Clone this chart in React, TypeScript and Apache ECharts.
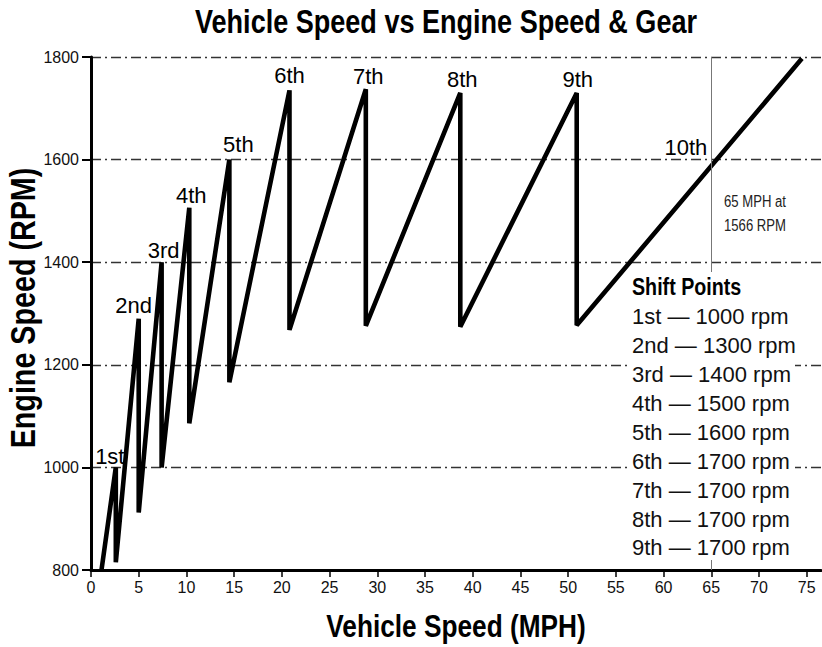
import React, { useEffect, useRef } from "react";
import * as echarts from "echarts";

// ---- data ----
const mph = [1.1, 2.6, 2.6, 5.0, 5.0, 7.4, 7.4, 10.3, 10.3, 14.5, 14.5, 20.8, 20.8, 28.8, 28.8, 38.7, 38.7, 50.9, 50.9, 74.5];
const rpm = [800, 1000, 815, 1290, 912, 1400, 1000, 1506, 1086, 1600, 1166, 1735, 1268, 1737, 1276, 1730, 1274, 1730, 1277, 1797];
const gearNames = ["1st", "2nd", "3rd", "4th", "5th", "6th", "7th", "8th", "9th"];
const peakIndex = [1, 3, 5, 7, 9, 11, 13, 15, 17];
const topGearName = "10th";
const xTicks = [0, 5, 10, 15, 20, 25, 30, 35, 40, 45, 50, 55, 60, 65, 70, 75];
const shiftGears = ["1st", "2nd", "3rd", "4th", "5th", "6th", "7th", "8th", "9th"];
const shiftRpm = [1000, 1300, 1400, 1500, 1600, 1700, 1700, 1700, 1700];
const markerMph = 65;
const markerRpm = 1566;
const markerGridRpm = 1600;

const TITLE = "Vehicle Speed vs Engine Speed & Gear";
const X_NAME = "Vehicle Speed (MPH)";
const Y_NAME = "Engine Speed (RPM)";

// ---- styles ----
const SANS = '"Liberation Sans", Arial, sans-serif';
const NARROW_SCALE = 0.82;
const labelOffsets: [number, number][] = [
  [-6, 0], [-5, -2], [2, -1], [2, -1.6], [9, -3.6], [0, -3.6], [2.5, -1.6], [2, -2.6], [1, -2.6],
];

export default function App() {
  const ref = useRef<HTMLDivElement>(null);
  useEffect(() => {
    document.body.style.margin = "0";
    const chart = echarts.init(ref.current!, null, { renderer: "svg" });

    const boxX = 627, boxY = 272, boxW = 168, boxH = 288;
    const lineY0 = 316.7, lineStep = 28.9;
    const boxChildren: any[] = [
      { type: "rect", z: 100, shape: { x: boxX, y: boxY, width: boxW, height: boxH }, style: { fill: "#fff" } },
      {
        type: "text", z: 101, x: 632, y: 287, scaleX: NARROW_SCALE,
        style: { text: "Shift Points", fontFamily: SANS, fontWeight: "bold", fontSize: 24, fill: "#000", align: "left", verticalAlign: "middle" },
      },
    ];
    shiftGears.forEach((g, i) => {
      boxChildren.push({
        type: "text", z: 101, x: 632, y: lineY0 + i * lineStep,
        style: { text: `${g} \u2014 ${shiftRpm[i]} rpm`, fontFamily: SANS, fontSize: 22, fill: "#111", align: "left", verticalAlign: "middle" },
      });
    });

    const labelStyle = { fontFamily: SANS, fontSize: 22, color: "#000", opacity: 1 };

    const option: any = {
      animation: false,
      grid: { left: 91, right: 1, top: 57, bottom: 77, containLabel: false },
      xAxis: {
        type: "value", min: 0, max: 76.5, interval: 5,
        axisLine: { onZero: false, lineStyle: { color: "#000", width: 3 } },
        axisTick: { show: true, customValues: xTicks, length: 7, lineStyle: { color: "#000", width: 1.5 } },
        axisLabel: { customValues: xTicks, fontFamily: SANS, fontSize: 16, color: "#111", margin: 9 },
        splitLine: { show: false },
      },
      yAxis: {
        type: "value", min: 800, max: 1800, interval: 200,
        axisLine: { show: true, onZero: false, lineStyle: { color: "#000", width: 3 } },
        axisTick: { show: true, length: 9, lineStyle: { color: "#000", width: 2 } },
        axisLabel: { fontFamily: SANS, fontSize: 16, color: "#111", margin: 12, formatter: (v: number) => String(v) },
        splitLine: { show: true, lineStyle: { color: "#333", width: 1.3, type: [10, 4, 2, 4] } },
      },
      series: [
        {
          type: "line",
          data: mph.map((x, i) => [x, rpm[i]]),
          showSymbol: false,
          lineStyle: { color: "#000", width: 4.6 },
          z: 3,
          markLine: {
            silent: true, symbol: "none", label: { show: false },
            lineStyle: { color: "#777", width: 1, type: "solid" },
            data: [{ xAxis: markerMph }],
          },
        },
        {
          type: "scatter",
          symbolSize: 0.01,
          itemStyle: { color: "#000", opacity: 1 },
          z: 4,
          data: peakIndex.map((idx, k) => ({
            value: [mph[idx], rpm[idx]],
            label: { offset: labelOffsets[k] },
          })),
          label: {
            show: true, position: "top", distance: 0,
            formatter: (p: any) => gearNames[p.dataIndex],
            ...labelStyle,
          },
        },
        {
          type: "scatter",
          symbolSize: 0.01,
          itemStyle: { color: "#000", opacity: 1 },
          z: 4,
          data: [[markerMph, markerGridRpm]],
          label: {
            show: true, position: "top", distance: 0, align: "right",
            formatter: topGearName, offset: [-4, -1],
            ...labelStyle,
          },
        },
      ],
      graphic: [
        {
          type: "text", x: 446, y: 21.5, scaleX: NARROW_SCALE,
          style: { text: TITLE, fontFamily: SANS, fontWeight: "bold", fontSize: 33, fill: "#000", align: "center", verticalAlign: "middle" },
        },
        {
          type: "text", x: 456, y: 626.5, scaleX: NARROW_SCALE,
          style: { text: X_NAME, fontFamily: SANS, fontWeight: "bold", fontSize: 32, fill: "#000", align: "center", verticalAlign: "middle" },
        },
        {
          type: "text", x: 22.5, y: 308, rotation: Math.PI / 2, scaleX: NARROW_SCALE,
          style: { text: Y_NAME, fontFamily: SANS, fontWeight: "bold", fontSize: 35, fill: "#000", align: "center", verticalAlign: "middle" },
        },
        {
          type: "text", x: 724, y: 202, scaleX: NARROW_SCALE,
          style: { text: `${markerMph} MPH at`, fontFamily: SANS, fontSize: 16, fill: "#222", align: "left", verticalAlign: "middle" },
        },
        {
          type: "text", x: 724, y: 226, scaleX: NARROW_SCALE,
          style: { text: `${markerRpm} RPM`, fontFamily: SANS, fontSize: 16, fill: "#222", align: "left", verticalAlign: "middle" },
        },
        { type: "group", z: 100, children: boxChildren },
      ],
    };
    chart.setOption(option);
    return () => chart.dispose();
  }, []);
  return <div ref={ref} style={{ width: 822, height: 647 }} />;
}
